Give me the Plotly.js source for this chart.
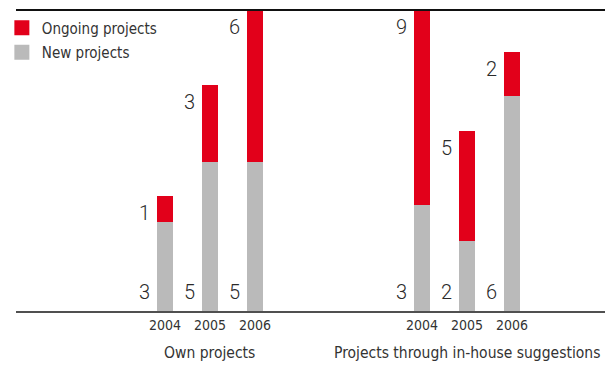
<!DOCTYPE html>
<html>
<head>
<meta charset="utf-8">
<script src="https://cdn.plot.ly/plotly-3.0.1.min.js"></script>
<style>html,body{margin:0;padding:0;background:#fff;}#chart{width:605px;height:365px;}</style>
</head>
<body>
<div id="chart"></div>
<script>
// ---- data ----
var groups = ['Own projects', 'Projects through in-house suggestions'];
var years = ['2004', '2005', '2006'];
// number of projects (labels)
var newCountOwn = [3, 5, 5];
var ongoingCountOwn = [1, 3, 6];
var newCountHouse = [3, 2, 6];
var ongoingCountHouse = [9, 5, 2];
// bar heights as drawn in the picture (arbitrary units)
var newHeightOwn = [89, 149, 149];
var ongoingHeightOwn = [26, 76, 151];
var newHeightHouse = [106, 70, 214];
var ongoingHeightHouse = [194, 109, 44];

// ---- layout constants ----
var GROUP_OFFSET = 5.71;
var RED = '#e2001a', GREY = '#bababa', TEXT = '#333333';
var NARROW = '"Liberation Sans Narrow", "DejaVu Sans Condensed", "Roboto", sans-serif';

var newCounts = [newCountOwn, newCountHouse];
var ongCounts = [ongoingCountOwn, ongoingCountHouse];
var newH = [newHeightOwn, newHeightHouse];
var ongH = [ongoingHeightOwn, ongoingHeightHouse];

var xs = [], yNew = [], yOng = [], tickvals = [], ticktext = [], annotations = [];
groups.forEach(function (g, gi) {
  years.forEach(function (yr, yi) {
    var x = gi * GROUP_OFFSET + yi;
    xs.push(x);
    yNew.push(newH[gi][yi]);
    yOng.push(ongH[gi][yi]);
    tickvals.push(x);
    ticktext.push(yr);
    annotations.push({
      x: x, y: 0, xref: 'x', yref: 'y', text: String(newCounts[gi][yi]),
      showarrow: false, xanchor: 'right', yanchor: 'bottom', xshift: -13, yshift: 5,
      font: {family: 'Roboto, sans-serif', weight: 300, size: 20, color: '#2a2a2a'}
    });
    annotations.push({
      x: x, y: newH[gi][yi] + ongH[gi][yi], xref: 'x', yref: 'y', text: String(ongCounts[gi][yi]),
      showarrow: false, xanchor: 'right', yanchor: 'top', xshift: -13, yshift: -3,
      font: {family: 'Roboto, sans-serif', weight: 300, size: 20, color: '#2a2a2a'}
    });
  });
  annotations.push({
    x: gi * GROUP_OFFSET + 1, y: 0, xref: 'x', yref: 'paper', text: g,
    showarrow: false, xanchor: 'center', yanchor: 'top', yshift: -31,
    font: {family: NARROW, size: 15.5, color: TEXT}
  });
});

var traces = [
  {type: 'bar', name: 'New projects', x: xs, y: yNew, width: 0.356,
   marker: {color: GREY}, hoverinfo: 'skip', showlegend: false},
  {type: 'bar', name: 'Ongoing projects', x: xs, y: yOng, width: 0.356,
   marker: {color: RED}, hoverinfo: 'skip', showlegend: false},
  // legend keys (square swatches matching the bar colours)
  {type: 'scatter', mode: 'markers', name: 'Ongoing projects', x: [null], y: [null],
   legendgroup: 'a', marker: {symbol: 'square', size: 15, color: RED}},
  {type: 'scatter', mode: 'markers', name: 'New projects', x: [null], y: [null],
   legendgroup: 'b', marker: {symbol: 'square', size: 15, color: GREY}}
];

var layout = {
  width: 605, height: 365,
  margin: {l: 16, r: 0, t: 10, b: 54},
  paper_bgcolor: '#fff', plot_bgcolor: '#fff',
  barmode: 'stack',
  showlegend: true,
  legend: {x: -0.024, y: 0.995, xanchor: 'left', yanchor: 'top', traceorder: 'grouped',
           font: {family: NARROW, size: 15, color: TEXT}, bgcolor: 'rgba(0,0,0,0)',
           tracegroupgap: 2, itemwidth: 30, itemsizing: 'trace'},
  xaxis: {range: [-3.311, 9.778], tickvals: tickvals, ticktext: ticktext,
          showgrid: false, zeroline: false, showline: true, linecolor: '#505050', linewidth: 2,
          ticks: '', tickfont: {family: NARROW, size: 14, color: TEXT}, fixedrange: true},
  yaxis: {range: [0, 300], visible: false, showgrid: false, zeroline: false, fixedrange: true},
  shapes: [{type: 'line', xref: 'paper', yref: 'paper', x0: 0, x1: 1, y0: 1, y1: 1,
            line: {color: '#111', width: 2}}],
  annotations: annotations
};

Plotly.newPlot('chart', traces, layout, {displayModeBar: false, staticPlot: true});
</script>
</body>
</html>
